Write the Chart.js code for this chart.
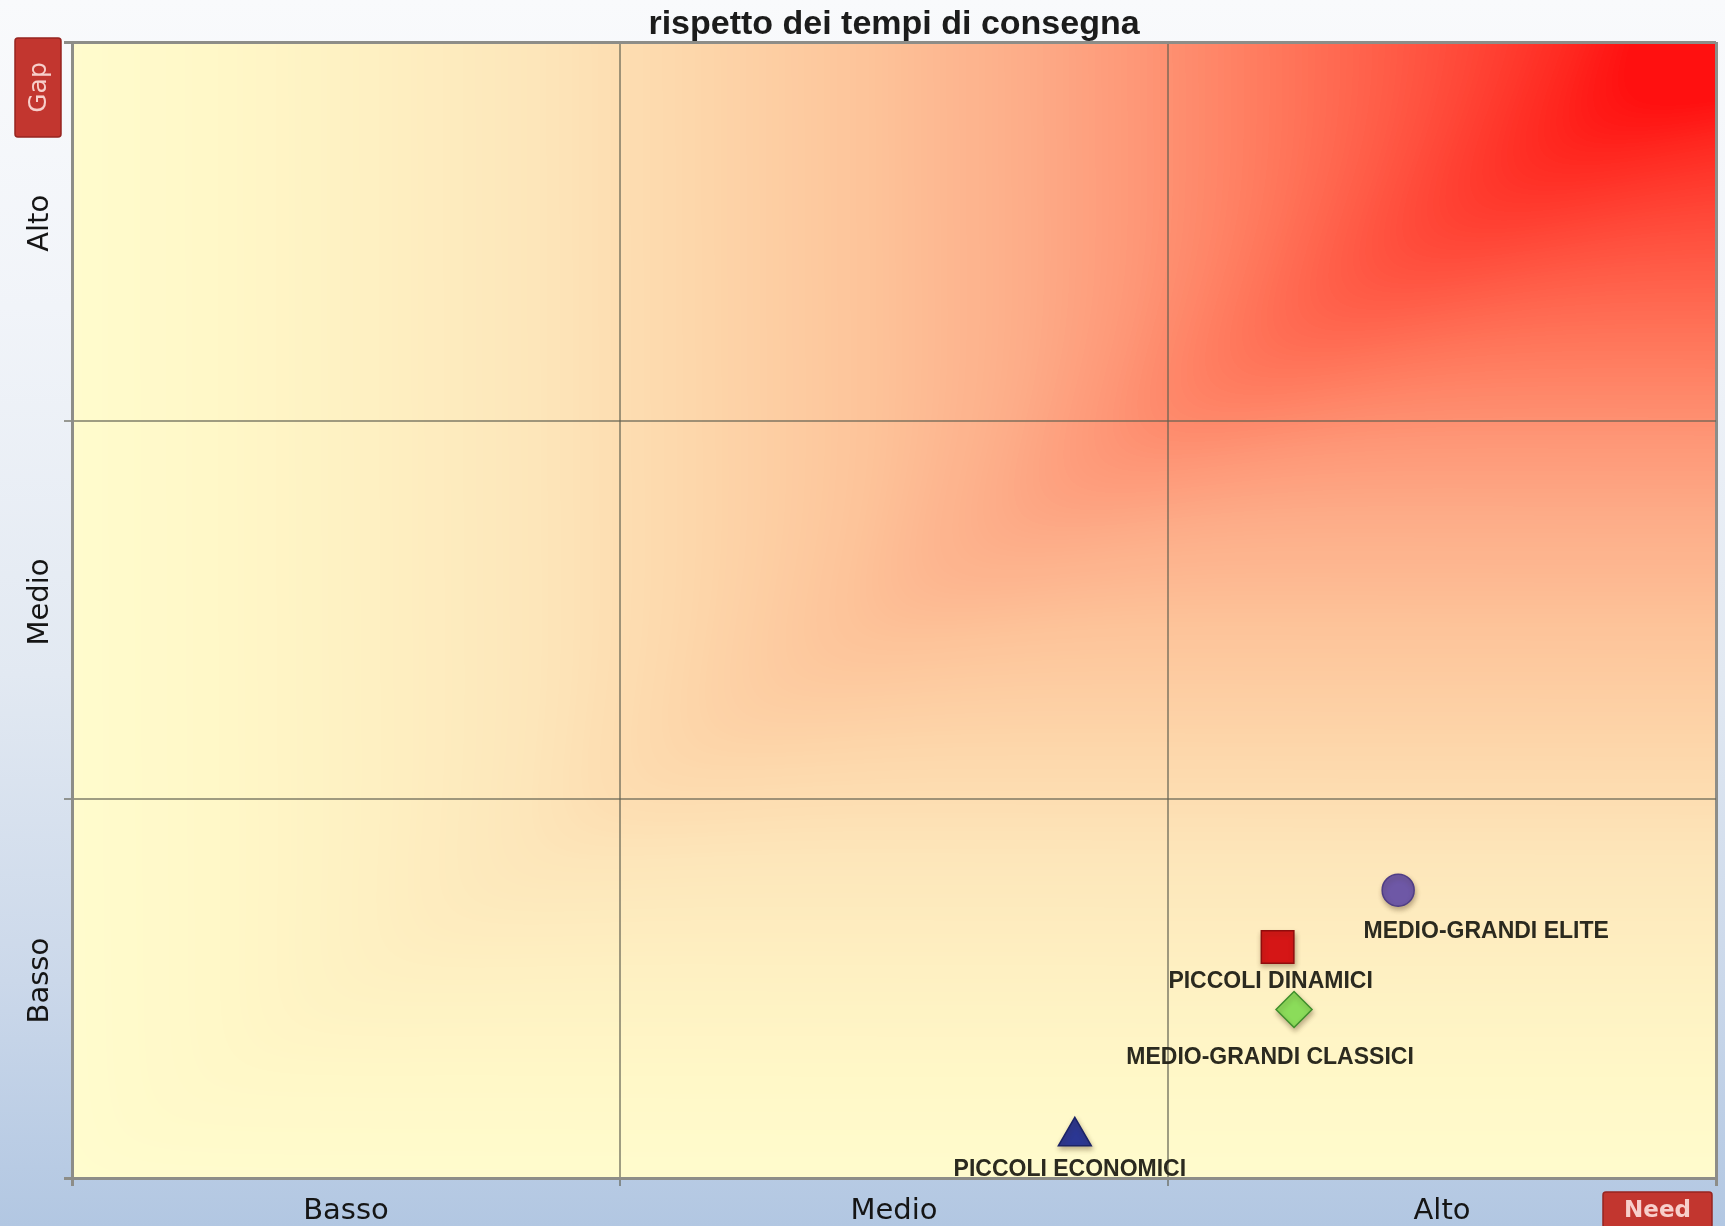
<!DOCTYPE html>
<html lang="it">
<head>
<meta charset="utf-8">
<title>rispetto dei tempi di consegna</title>
<script src="https://cdn.jsdelivr.net/npm/chart.js@4.4.1/dist/chart.umd.min.js"></script>
<style>
  html, body { margin: 0; padding: 0; }
  body {
    width: 1725px;
    height: 1226px;
    overflow: hidden;
    background: linear-gradient(to bottom, #f9fafc 0%, #f1f4f9 25%, #e2e9f2 55%, #cbd8ea 80%, #b2c7e2 100%);
  }
  #wrap { position: relative; width: 1725px; height: 1226px; }
</style>
</head>
<body>
<div id="wrap"><canvas id="matrix"></canvas></div>
<script>
// need/gap matrix, both axes on a 0..3 scale split in three bands
const chartTitle   = 'rispetto dei tempi di consegna';
const levelLabels  = ['Basso', 'Medio', 'Alto'];
const segmentNames = ['PICCOLI ECONOMICI', 'PICCOLI DINAMICI', 'MEDIO-GRANDI CLASSICI', 'MEDIO-GRANDI ELITE'];
const needScores   = [1.83, 2.20, 2.23, 2.42];
const gapScores    = [0.11, 0.61, 0.445, 0.76];
const badgeNeed    = 'Need';
const badgeGap     = 'Gap';

// marker look + where the name sits relative to the marker
const segmentStyles = [
    { shape: 'triangle', radius: 19, fill: '#2b3793', edge: '#1b2366', dx: -5,  dy: 33 },
    { shape: 'rect',     radius: 23, fill: '#d51616', edge: '#8f0d0d', dx: -7,  dy: 35 },
    { shape: 'rectRot',  radius: 18, fill: '#8bdc5a', edge: '#3f8f2c', dx: -24, dy: 48 },
    { shape: 'circle',   radius: 16, fill: '#6e58a6', edge: '#4f3d85', dx: 88,  dy: 41 },
];

// yellow -> peach -> red ramp for the plot background
const heatStops = [
    [0.00, 255, 252, 206],
    [0.10, 255, 248, 200],
    [0.20, 254, 240, 194],
    [0.30, 253, 230, 186],
    [0.40, 253, 214, 170],
    [0.50, 253, 196, 154],
    [0.60, 253, 172, 136],
    [0.67, 254, 150, 118],
    [0.75, 255, 120,  92],
    [0.85, 255,  80,  62],
    [0.95, 255,  40,  32],
    [1.00, 255,  16,  16],
];

const heatLut = [];
for (let i = 0; i <= 255; i++) {
    const f = i / 255;
    let j = 1;
    while (j < heatStops.length - 1 && heatStops[j][0] < f) j++;
    const a = heatStops[j - 1], b = heatStops[j];
    const t = (f - a[0]) / (b[0] - a[0]);
    heatLut.push([1, 2, 3].map(k => Math.round(a[k] + (b[k] - a[k]) * t)));
}

let heatCache = null;

// soft min of the two axis fractions, slightly lifted along the diagonal
function heatAt(u, v) {
    const e = 0.04;
    const diff = u - v;
    const soft = 0.5 * (u + v) - 0.5 * Math.sqrt(diff * diff + e * e) + 0.5 * e;
    const d = diff / 0.1;
    return Math.max(0, Math.min(1, soft * (1 + 0.05 * Math.exp(-d * d))));
}

const quadrantBackground = {
    id: 'quadrantBackground',
    beforeDraw(chart) {
        const { left, top, width, height } = chart.chartArea;
        const w = Math.round(width), h = Math.round(height);
        if (!heatCache || heatCache.width !== w || heatCache.height !== h) {
            const off = document.createElement('canvas');
            off.width = w;
            off.height = h;
            const octx = off.getContext('2d');
            const img = octx.createImageData(w, h);
            for (let py = 0; py < h; py++) {
                const v = 1 - py / (h - 1);
                for (let px = 0; px < w; px++) {
                    const c = heatLut[Math.round(heatAt(px / (w - 1), v) * 255)];
                    const k = (py * w + px) * 4;
                    img.data[k]     = c[0];
                    img.data[k + 1] = c[1];
                    img.data[k + 2] = c[2];
                    img.data[k + 3] = 255;
                }
            }
            octx.putImageData(img, 0, 0);
            heatCache = off;
        }
        chart.ctx.drawImage(heatCache, left, top, width, height);
    }
};

const pointShadow = {
    id: 'pointShadow',
    beforeDatasetsDraw(chart) {
        const c = chart.ctx;
        c.save();
        c.shadowColor = 'rgba(70, 45, 20, 0.35)';
        c.shadowBlur = 5;
        c.shadowOffsetX = 1;
        c.shadowOffsetY = 3;
    },
    afterDatasetsDraw(chart) {
        chart.ctx.restore();
    }
};

const segmentLabels = {
    id: 'segmentLabels',
    afterDatasetsDraw(chart) {
        const c = chart.ctx;
        c.save();
        c.font = 'bold 23px "Liberation Sans"';
        c.fillStyle = '#2b2a1f';
        c.textAlign = 'center';
        c.textBaseline = 'middle';
        chart.data.datasets.forEach((ds, i) => {
            const pt = chart.getDatasetMeta(i).data[0];
            c.fillText(ds.label, pt.x + ds.labelDx, pt.y + ds.labelDy);
        });
        c.restore();
    }
};

function drawBadge(c, x, y, w, h, text, vertical, font) {
    c.save();
    c.fillStyle = '#c2362f';
    c.strokeStyle = '#962521';
    c.lineWidth = 1.5;
    c.beginPath();
    c.roundRect(x, y, w, h, 3);
    c.fill();
    c.stroke();
    c.fillStyle = '#f7cfcb';
    c.font = font;
    c.textAlign = 'center';
    c.textBaseline = 'middle';
    c.translate(x + w / 2, y + h / 2);
    if (vertical) c.rotate(-Math.PI / 2);
    c.fillText(text, 0, 1);
    c.restore();
}

const axisBadges = {
    id: 'axisBadges',
    afterDraw(chart) {
        const { left, top, right, bottom } = chart.chartArea;
        drawBadge(chart.ctx, left - 57, top - 4, 46, 99, badgeGap, true, '25px "DejaVu Sans"');
        drawBadge(chart.ctx, right - 113, bottom + 14, 109, 36, badgeNeed, false, 'bold 23px "DejaVu Sans"');
    }
};

const halfSteps = [0, 0.5, 1, 1.5, 2, 2.5, 3];

function bandLabel(value) {
    return value % 1 === 0.5 ? levelLabels[Math.floor(value)] : '';
}

function gridColour(ctx) {
    if (!ctx.tick || ctx.tick.value % 1 !== 0) return 'rgba(0,0,0,0)';
    if (ctx.tick.value === 0 || ctx.tick.value === 3) return '#8d8d88';
    return 'rgba(95, 95, 80, 0.6)';
}

function gridWidth(ctx) {
    return ctx.tick && (ctx.tick.value === 0 || ctx.tick.value === 3) ? 3 : 2;
}

Chart.defaults.font.family = 'DejaVu Sans';
Chart.defaults.color = '#151515';

new Chart(document.getElementById('matrix'), {
    type: 'scatter',
    data: {
        datasets: segmentNames.map((name, i) => ({
            label: name,
            data: [{ x: needScores[i], y: gapScores[i] }],
            pointStyle: segmentStyles[i].shape,
            pointRadius: segmentStyles[i].radius,
            pointHoverRadius: segmentStyles[i].radius,
            backgroundColor: segmentStyles[i].fill,
            borderColor: segmentStyles[i].edge,
            borderWidth: 1.5,
            labelDx: segmentStyles[i].dx,
            labelDy: segmentStyles[i].dy,
        }))
    },
    options: {
        responsive: true,
        maintainAspectRatio: false,
        animation: false,
        layout: { autoPadding: false, padding: { left: 0, right: 9, top: 0, bottom: 0 } },
        plugins: {
            legend: { display: false },
            tooltip: { enabled: false },
            title: {
                display: true,
                text: chartTitle,
                fullSize: false,
                color: '#1c1c1c',
                font: { family: 'Liberation Sans', size: 34, weight: 'bold', lineHeight: 1.0 },
                padding: { top: 8, bottom: 0 }
            }
        },
        scales: {
            x: {
                type: 'linear',
                min: 0,
                max: 3,
                afterBuildTicks: (scale) => { scale.ticks = halfSteps.map(v => ({ value: v })); },
                afterFit: (scale) => { scale.height = 48; },
                ticks: {
                    autoSkip: false,
                    minRotation: 0,
                    maxRotation: 0,
                    padding: 8,
                    font: { size: 29 },
                    callback: bandLabel
                },
                grid: { color: gridColour, lineWidth: gridWidth, tickLength: 8 },
                border: { display: true, color: '#8d8d88', width: 3 }
            },
            y: {
                type: 'linear',
                min: 0,
                max: 3,
                afterBuildTicks: (scale) => { scale.ticks = halfSteps.map(v => ({ value: v })); },
                afterFit: (scale) => { scale.width = 72; },
                ticks: {
                    autoSkip: false,
                    minRotation: 90,
                    maxRotation: 90,
                    // centred on the band, pulled back by half the widest label
                    crossAlign: 'center',
                    padding: -20.5,
                    labelOffset: -8,
                    font: { size: 29, lineHeight: 1.1 },
                    callback: bandLabel
                },
                grid: { color: gridColour, lineWidth: gridWidth, tickLength: 8 },
                border: { display: true, color: '#8d8d88', width: 3 }
            }
        }
    },
    plugins: [quadrantBackground, pointShadow, segmentLabels, axisBadges]
});
</script>
</body>
</html>
